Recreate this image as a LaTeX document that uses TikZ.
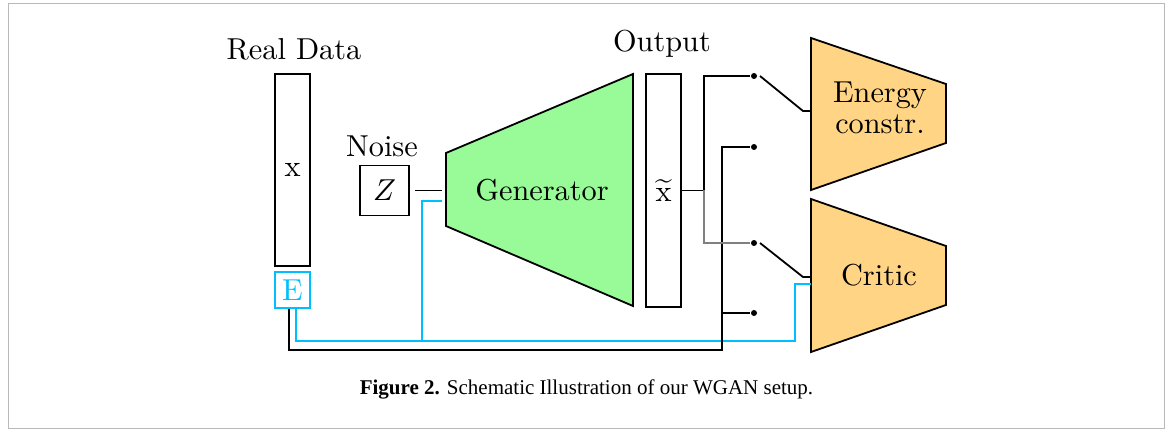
\documentclass[tikz,border=0pt]{standalone}
\usepackage{fontspec}
\newfontfamily\capfont{Liberation Serif}
\definecolor{gencol}{RGB}{152,251,152}
\definecolor{disccol}{RGB}{255,213,133}
\definecolor{ecol}{RGB}{0,191,255}
\newcommand\mybig[1]{\scalebox{3.03}{\fontsize{10}{10}\selectfont #1}}
\begin{document}
\begin{tikzpicture}[x=1pt,y=-1pt,line width=1.8pt,
  lbl/.style={inner sep=0pt},
  vecbox/.style={draw, inner sep=0pt},
  dot/.style={circle, fill=black, inner sep=0pt, minimum size=6pt},
  ecable/.style={draw=ecol, line width=1.8pt},
  gap/.style={shorten >=4.5pt}]
\useasboundingbox (0,0) rectangle (1171,430);
\draw[gray!55, line width=1pt] (8,4) rectangle (1164,429);

% real data
\node[lbl] (rdl) at (294,49) {\mybig{Real Data}};
\node[vecbox, minimum width=35pt, minimum height=192pt] (xbox) at (292.5,170) {\mybig{x}};
\node[vecbox, draw=ecol, text=ecol, minimum width=35pt, minimum height=36pt] (ebox) at (292.5,290) {\mybig{E}};

% noise
\node[lbl] (nl) at (382,146) {\mybig{Noise}};
\node[vecbox, minimum width=49pt, minimum height=50pt] (zbox) at (384.5,190.5) {\mybig{$Z$}};

% generator
\draw[fill=gencol] (446,153) -- (633,74) -- (633,306) -- (446,226) -- cycle;
\node[lbl] (gen) at (542,190) {\mybig{Generator}};
\coordinate (genin) at (446,190.5);
\coordinate (geninb) at (446,201);

% output
\node[lbl] (ol) at (662,44) {\mybig{Output}};
\node[vecbox, minimum width=35pt, minimum height=233pt] (obox) at (663.5,190.5) {\mybig{$\widetilde{\mathrm{x}}$}};

% energy constraint
\draw[fill=disccol] (811,38) -- (946,84) -- (946,143) -- (811,190) -- cycle;
\node[lbl] (en) at (880,112) {\mybig{\begin{tabular}{@{}c@{}}Energy\\constr.\end{tabular}}};
\coordinate (ein) at (811,111);

% critic
\draw[fill=disccol] (811,199) -- (946,246) -- (946,305) -- (811,352) -- cycle;
\node[lbl] (cr) at (879,275) {\mybig{Critic}};
\coordinate (cin) at (811,277);
\coordinate (cine) at (811,284);

% switch dots
\node[dot] (d1) at (754,76) {};
\node[dot] (d2) at (754,147) {};
\node[dot] (d3) at (754,243) {};
\node[dot] (d4) at (754,313) {};

% noise to generator
\draw[gap] ([xshift=5pt]zbox.east) -- (genin);

% embedding cables (cyan)
\coordinate (cb) at (422,341);
\draw[ecable] ([xshift=3.5pt]ebox.south) |- (795,341) |- (cine);
\draw[ecable, gap] (cb) |- (geninb);

% real data cable (black)
\coordinate (v) at (722,350);
\draw ([xshift=-3.5pt]ebox.south) |- (v) |- (d2);
\draw (v |- d4) -- (d4);

% generated output
\coordinate (j) at (704,190.5);
\draw (obox.east) -- (j) |- (d1);
\draw[gray, line width=1.3pt] (j) |- (d3);

% switches
\draw ([xshift=6pt]d1.center) -- ([xshift=-8pt]ein) -- (ein);
\draw ([xshift=6pt]d3.center) -- ([xshift=-8pt]cin) -- (cin);

% caption
\node[inner sep=0pt, font=\capfont\fontsize{21}{24}\selectfont] (cap) at (586.5,389) {\textbf{Figure 2.} Schematic Illustration of our WGAN setup.};
\end{tikzpicture}
\end{document}
